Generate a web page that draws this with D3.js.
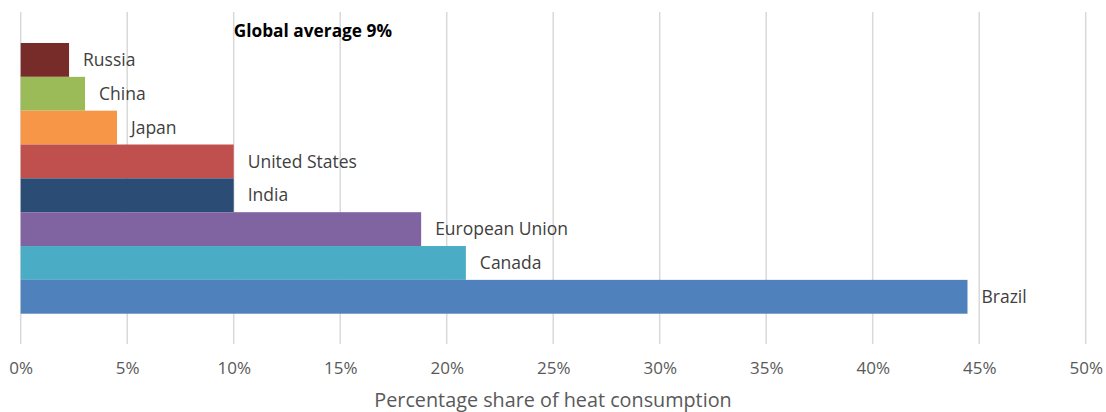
<!DOCTYPE html>
<html><head><meta charset="utf-8">
<script src="https://cdn.jsdelivr.net/npm/d3@7"></script>
<style>body{margin:0;background:#fff}svg{display:block}</style>
</head><body>
<svg id="c" width="1106" height="412"></svg>
<script>
const categories = ["Russia","China","Japan","United States","India","European Union","Canada","Brazil"];
const values = [2.27, 3.02, 4.52, 10.0, 10.0, 18.8, 20.9, 44.45];
const colors = ["#772C2A","#9BBB59","#F79646","#C0504D","#2B4C75","#8064A2","#4BACC6","#4F81BD"];
const ticks = [0,5,10,15,20,25,30,35,40,45,50];
const tickLabels = ticks.map(d => d + "%");
const annotation = "Global average 9%";
const axisTitle = "Percentage share of heat consumption";

const svg = d3.select("#c");
const font = "'Open Sans', sans-serif";
const x = d3.scaleLinear().domain([0,50]).range([20.7,1085.7]);
const y = d3.scaleBand().domain(categories).range([43,313.7]).padding(0);

svg.append("g").selectAll("line").data(ticks).join("line")
  .attr("x1", d => x(d)).attr("x2", d => x(d))
  .attr("y1", 12).attr("y2", 344)
  .attr("stroke", "#d9d9d9").attr("stroke-width", 1.5);

svg.append("g").selectAll("rect").data(categories).join("rect")
  .attr("x", x(0)).attr("y", d => y(d))
  .attr("width", (d,i) => x(values[i]) - x(0))
  .attr("height", y.bandwidth())
  .attr("fill", (d,i) => colors[i]);

svg.append("g").selectAll("text").data(categories).join("text")
  .attr("x", (d,i) => x(values[i]) + 14)
  .attr("y", d => y(d) + y.bandwidth()/2)
  .attr("dy", "0.35em")
  .attr("font-family", font).attr("font-size", 17.5).attr("fill", "#404040")
  .text(d => d);

const axis = d3.axisBottom(x).tickValues(ticks).tickFormat((d,i) => tickLabels[i]).tickSize(0).tickPadding(0);
const ga = svg.append("g").attr("transform", "translate(0,360)").call(axis);
ga.select(".domain").remove();
ga.selectAll("text").attr("font-family", font).attr("font-size", 17).attr("fill", "#595959").attr("dy", "0.85em");

svg.append("text").attr("x", x(10)).attr("y", 37)
  .attr("font-family", font).attr("font-size", 17.3).attr("font-weight", "bold").attr("fill", "#000")
  .text(annotation);

svg.append("text").attr("x", 553).attr("y", 407).attr("text-anchor", "middle")
  .attr("font-family", font).attr("font-size", 19.8).attr("fill", "#595959")
  .text(axisTitle);
</script>
</body></html>
